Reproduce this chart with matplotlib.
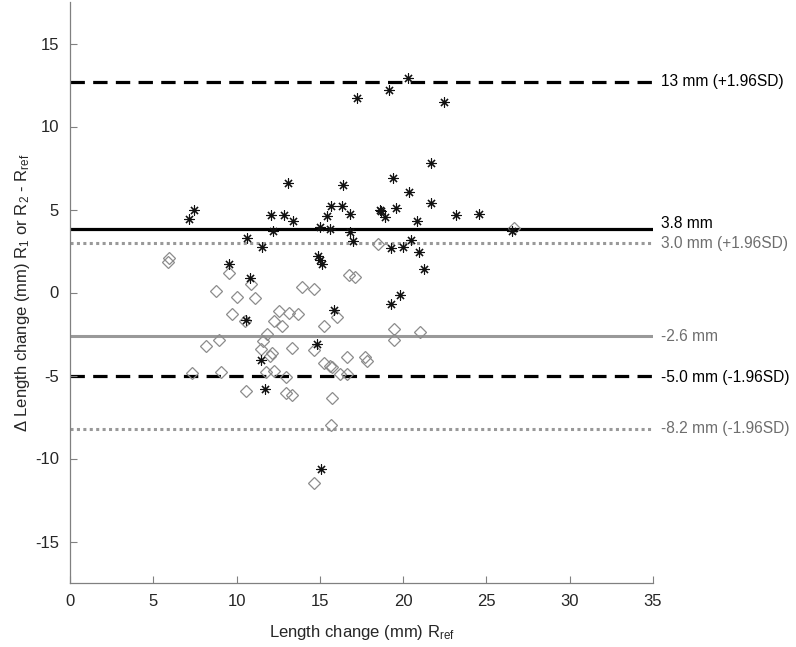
import matplotlib
matplotlib.use("Agg")
import matplotlib.pyplot as plt

plt.rcParams['font.family'] = ['Liberation Sans', 'DejaVu Sans']
plt.rcParams['mathtext.default'] = 'regular'
plt.rcParams['axes.unicode_minus'] = False
plt.rcParams['font.size'] = 12

# Asterisk series (R1 - Rref)
star_x = [7.14, 7.44, 9.52, 10.60, 10.56, 10.82, 11.48, 11.54, 11.70, 12.07,
          12.20, 12.87, 13.07, 13.41, 14.84, 14.90, 15.00, 15.10, 15.00, 15.08,
          15.45, 15.60, 15.67, 15.83, 16.31, 16.39, 16.83, 16.83, 17.00, 17.21,
          18.60, 18.66, 18.90, 19.17, 19.25, 19.27, 19.40, 19.57, 19.83, 19.97,
          20.29, 20.37, 20.50, 20.85, 20.93, 21.27, 21.70, 21.70, 22.45, 23.19,
          24.57, 26.55]
star_y = [4.40, 5.00, 1.69, 3.30, -1.63, 0.90, -4.05, 2.73, -5.84, 4.64,
          3.70, 4.64, 6.57, 4.28, -3.09, 2.17, 1.97, 1.73, 3.93, -10.62,
          4.60, 3.80, 5.20, -1.08, 5.20, 6.49, 4.72, 3.65, 3.13, 11.70,
          4.96, 4.90, 4.52, 12.21, 2.69, -0.70, 6.90, 5.10, -0.18, 2.77,
          12.95, 6.04, 3.17, 4.28, 2.41, 1.40, 7.81, 5.38, 11.46, 4.64,
          4.74, 3.69]

# Diamond series (R2 - Rref)
dia_x = [5.96, 5.90, 7.32, 8.18, 8.76, 8.96, 9.04, 9.54, 9.70, 10.04,
         10.50, 10.54, 10.85, 11.12, 11.47, 11.60, 11.76, 11.84, 12.00, 12.10,
         12.24, 12.24, 12.56, 12.73, 12.95, 12.96, 13.16, 13.30, 13.35, 13.67,
         13.90, 14.65, 14.66, 14.67, 15.22, 15.25, 15.60, 15.64, 15.70, 15.74,
         16.04, 16.20, 16.60, 16.65, 16.72, 17.12, 17.70, 17.85, 18.47, 19.45,
         19.47, 21.03, 26.65]
dia_y = [2.09, 1.83, -4.86, -3.25, 0.12, -2.89, -4.76, 1.17, -1.29, -0.26,
         -1.73, -5.95, 0.52, -0.32, -3.39, -2.95, -4.80, -2.53, -3.80, -3.66,
         -1.69, -4.74, -1.12, -2.00, -5.10, -6.07, -1.24, -6.16, -3.37, -1.29,
         0.36, 0.22, -11.46, -3.49, -1.99, -4.26, -4.40, -7.97, -4.50, -6.34,
         -1.49, -4.90, -4.90, -3.90, 1.08, 0.96, -3.90, -4.10, 2.93, -2.89,
         -2.21, -2.35, 3.87]

# Reference lines: value, label
ref_values = [12.7, 3.8, 3.0, -2.6, -5.0, -8.2]
ref_labels = ['13 mm (+1.96SD)', '3.8 mm', '3.0 mm (+1.96SD)', '-2.6 mm',
              '-5.0 mm (-1.96SD)', '-8.2 mm (-1.96SD)']
label_y = [12.7, 4.15, 2.95, -2.65, -5.15, -8.2]

x_ticks = [0, 5, 10, 15, 20, 25, 30, 35]
y_ticks = [-15, -10, -5, 0, 5, 10, 15]

fig = plt.figure(figsize=(7.96, 6.47), dpi=100)
ax = fig.add_axes([70/796, 64/647, 583/796, 581/647])

gray_line = '#999999'
gray_text = '#6e6e6e'
black = '#000000'
styles = [
    dict(color=black, lw=2.3, ls=(0, (4.5, 2.6))),
    dict(color=black, lw=2.3, ls='-'),
    dict(color=gray_line, lw=2.2, ls=(0, (1, 1.1))),
    dict(color=gray_line, lw=2.2, ls='-'),
    dict(color=black, lw=2.3, ls=(0, (4.5, 2.6))),
    dict(color=gray_line, lw=2.2, ls=(0, (1, 1.1))),
]
text_colors = [black, black, gray_text, gray_text, black, gray_text]

for v, st in zip(ref_values, styles):
    ax.plot([0, 35], [v, v], **st, zorder=1)

ax.plot(dia_x, dia_y, ls='none', marker='D', markersize=5.8, mfc='none',
        mec='#8c8c8c', mew=0.9, zorder=2)
ax.plot(star_x, star_y, ls='none', marker=(8, 2, 0), markersize=7.2,
        color='#111111', mew=0.8, zorder=3)

for ly, lab, c in zip(label_y, ref_labels, text_colors):
    ax.text(35.5, ly, lab, color=c, fontsize=11.2, va='center', ha='left',
            clip_on=False)

ax.set_xlim(0, 35)
ax.set_ylim(-17.5, 17.5)
ax.set_xticks(x_ticks)
ax.set_yticks(y_ticks)
for s in ['top', 'right']:
    ax.spines[s].set_visible(False)
for s in ['left', 'bottom']:
    ax.spines[s].set_color('#808080')
    ax.spines[s].set_linewidth(0.9)
ax.tick_params(direction='in', length=5, color='#808080', labelcolor='#262626',
               labelsize=12, pad=8)

ax.set_xlabel('Length change (mm) R$_{ref}$', fontsize=12, color='#262626', labelpad=10)
ax.set_ylabel('Δ Length change (mm) R$_1$ or R$_2$ - R$_{ref}$', fontsize=12,
              color='#262626', labelpad=2)

fig.savefig('out.png', dpi=100)
